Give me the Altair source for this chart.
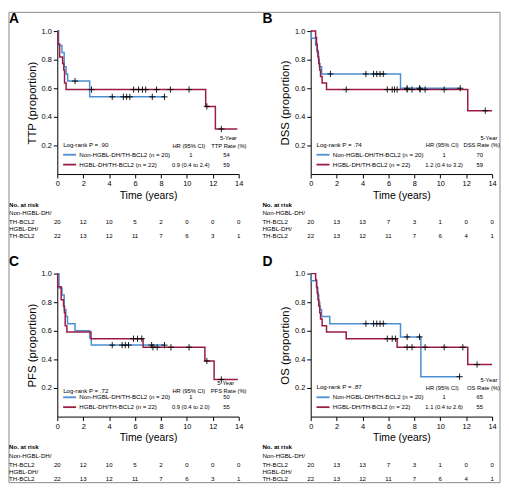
import altair as alt
import pandas as pd

BLUE = "#4a8fcf"
RED = "#9b1b45"
FONT = "Liberation Sans"

risk_times = [0, 2, 4, 6, 8, 10, 12, 14]

# ---------- Panel A: TTP ----------
ttp_non_t = [0, 0.1, 0.36, 0.53, 0.68, 0.8, 2.5, 8.3]
ttp_non_s = [1.0, 0.90, 0.85, 0.75, 0.70, 0.65, 0.54, 0.54]
ttp_hg_t = [0, 0.05, 0.18, 0.41, 0.5, 0.56, 0.68, 11.45, 12.2, 13.9]
ttp_hg_s = [1.0, 0.909, 0.818, 0.773, 0.727, 0.636, 0.591, 0.473, 0.315, 0.315]
ttp_non_cens = [1.37, 4.24, 5.1, 5.35, 5.6, 7.33, 8.27]
ttp_hg_cens = [2.64, 5.89, 6.27, 6.57, 6.82, 7.66, 8.73, 10.17, 11.54, 12.66]
ttp_risk_non = [20, 12, 10, 5, 2, 0, 0, 0]
ttp_risk_hg = [22, 13, 12, 11, 7, 6, 3, 1]

# ---------- Panel B: DSS ----------
dss_non_t = [0, 0.05, 0.38, 0.5, 0.6, 0.66, 0.84, 6.93, 11.54]
dss_non_s = [1.0, 0.95, 0.90, 0.85, 0.80, 0.75, 0.70, 0.60, 0.60]
dss_hg_t = [0, 0.38, 0.45, 0.5, 0.56, 0.62, 0.7, 0.76, 0.88, 1.22, 12.12, 14.0]
dss_hg_s = [1.0, 0.955, 0.909, 0.864, 0.818, 0.773, 0.727, 0.682, 0.636, 0.591, 0.443, 0.443]
dss_non_cens = [1.52, 4.26, 4.85, 5.1, 5.35, 5.6, 7.44, 8.4, 11.54]
dss_hg_cens = [2.74, 5.91, 6.29, 6.47, 6.67, 7.44, 7.82, 8.45, 8.83, 10.3, 13.47]
dss_risk_non = [20, 13, 13, 7, 3, 1, 0, 0]
dss_risk_hg = [22, 13, 12, 11, 7, 6, 4, 1]

# ---------- Panel C: PFS ----------
pfs_non_t = [0, 0.13, 0.36, 0.53, 0.66, 0.79, 1.37, 2.5, 2.62, 8.27]
pfs_non_s = [1.0, 0.90, 0.85, 0.75, 0.70, 0.65, 0.60, 0.55, 0.50, 0.50]
pfs_hg_t = [0, 0.03, 0.3, 0.48, 0.55, 0.61, 0.74, 2.6, 6.62, 11.39, 12.1, 13.93]
pfs_hg_s = [1.0, 0.909, 0.818, 0.773, 0.727, 0.636, 0.591, 0.545, 0.485, 0.389, 0.26, 0.26]
pfs_non_cens = [4.24, 5.0, 5.25, 5.5, 7.28, 8.27]
pfs_hg_cens = [5.88, 6.19, 6.52, 7.38, 7.71, 8.77, 10.17, 11.54, 12.66]
pfs_risk_non = [20, 12, 10, 5, 2, 0, 0, 0]
pfs_risk_hg = [22, 13, 12, 11, 7, 6, 3, 1]

# ---------- Panel D: OS ----------
os_non_t = [0, 0.03, 0.46, 0.55, 0.62, 0.7, 0.84, 1.47, 6.93, 8.5, 11.49]
os_non_s = [1.0, 0.95, 0.90, 0.85, 0.80, 0.75, 0.70, 0.65, 0.557, 0.279, 0.279]
os_hg_t = [0, 0.38, 0.45, 0.5, 0.56, 0.62, 0.7, 0.76, 0.88, 1.22, 2.74, 6.67, 12.12, 14.0]
os_hg_s = [1.0, 0.955, 0.909, 0.864, 0.818, 0.773, 0.727, 0.682, 0.636, 0.591, 0.545, 0.485, 0.364, 0.364]
os_non_cens = [4.26, 4.85, 5.1, 5.35, 5.6, 7.44, 8.4, 11.49]
os_hg_cens = [5.91, 6.29, 6.54, 7.44, 7.82, 8.83, 10.3, 11.74, 12.84]
os_risk_non = [20, 13, 13, 7, 3, 1, 0, 0]
os_risk_hg = [22, 13, 12, 11, 7, 6, 4, 1]

LEG_NON = "Non-HGBL-DH/TH-BCL2 (n = 20)"
LEG_HG = "HGBL-DH/TH-BCL2 (n = 22)"

W, H = 184, 145
ROW_GAP = 101
FS = 6.2
HFS = 5.9


def step_val(ts, ss, c):
    v = ss[0]
    for t, s in zip(ts, ss):
        if t <= c:
            v = s
    return v


def panel(letter, ytitle, non_t, non_s, hg_t, hg_s, non_c, hg_c, r_non, r_hg,
          p_txt, rate_lbl, hr_hg, rate_non, rate_hg, hdr_y, five_x, frame=False):
    xs = alt.Scale(domain=[0, 14], nice=False, zero=False)
    ys = alt.Scale(domain=[0, 1], nice=False)
    xaxis = alt.Axis(values=risk_times, title="Time (years)", labelFlush=False,
                     tickSize=4, labelPadding=2, titlePadding=3, format="d",
                     titleFontSize=10.5, titleFontWeight="normal", labelFontSize=7.5)
    yaxis = alt.Axis(values=[0.2, 0.4, 0.6, 0.8, 1.0], format=".1f", title=ytitle,
                     tickSize=4, labelPadding=2, titlePadding=4,
                     titleFontSize=11.5, titleFontWeight="normal", labelFontSize=7.5)

    def X(f):
        return alt.X(f, type="quantitative", scale=xs, axis=xaxis)

    def Y(f):
        return alt.Y(f, type="quantitative", scale=ys, axis=yaxis)

    layers = []
    df_non = pd.DataFrame({"t": non_t, "s": non_s})
    df_hg = pd.DataFrame({"t": hg_t, "s": hg_s})
    layers.append(alt.Chart(df_non).mark_line(interpolate="step-after", color=BLUE,
                                              strokeWidth=1.5).encode(x=X("t"), y=Y("s")))
    layers.append(alt.Chart(df_hg).mark_line(interpolate="step-after", color=RED,
                                             strokeWidth=1.5).encode(x=X("t"), y=Y("s")))
    cens = pd.DataFrame({
        "t": non_c + hg_c,
        "s": [step_val(non_t, non_s, c) for c in non_c] + [step_val(hg_t, hg_s, c) for c in hg_c],
    })
    layers.append(alt.Chart(cens).mark_point(shape="M-1,0L1,0M0,-1L0,1", filled=False,
                                             color="black", strokeWidth=0.9, size=40,
                                             opacity=1).encode(x=X("t"), y=Y("s")))
    # legend inside plot
    leg = pd.DataFrame({"t": [0.45, 0.45], "t2": [1.45, 1.45], "s": [0.135, 0.066],
                        "g": ["non", "hg"]})
    layers.append(alt.Chart(leg).mark_rule(strokeWidth=1.8).encode(
        x=X("t"), x2="t2", y=Y("s"),
        color=alt.Color("g:N", scale=alt.Scale(domain=["non", "hg"], range=[BLUE, RED]),
                        legend=None)))
    left_txt = pd.DataFrame({
        "t": [0.45, 1.7, 1.7],
        "s": [hdr_y + 0.004, 0.135, 0.066],
        "txt": ["Log-rank P = " + p_txt, LEG_NON, LEG_HG],
    })
    layers.append(alt.Chart(left_txt).mark_text(align="left", baseline="middle", font=FONT,
                                                fontSize=FS, color="black").encode(
        x=X("t"), y=Y("s"), text="txt:N"))
    ctr_txt = pd.DataFrame({
        "t": [10.15, five_x, 10.3, 10.3, 13.05, 13.05],
        "s": [hdr_y, hdr_y + 0.055, 0.135, 0.066, 0.135, 0.066],
        "txt": ["HR (95% CI)", "5-Year", "1", hr_hg, rate_non, rate_hg],
    })
    layers.append(alt.Chart(ctr_txt).mark_text(align="center", baseline="middle", font=FONT,
                                               fontSize=HFS, color="black").encode(
        x=X("t"), y=Y("s"), text="txt:N"))
    right_txt = pd.DataFrame({"t": [14.6], "s": [hdr_y], "txt": [rate_lbl]})
    layers.append(alt.Chart(right_txt).mark_text(align="right", baseline="middle", font=FONT,
                                                 fontSize=HFS, color="black").encode(
        x=X("t"), y=Y("s"), text="txt:N"))
    # risk table
    risk_non = pd.DataFrame({"t": risk_times, "n": r_non})
    risk_hg = pd.DataFrame({"t": risk_times, "n": r_hg})
    layers.append(alt.Chart(risk_non).mark_text(align="center", baseline="middle", font=FONT,
                                                fontSize=FS, color="black").encode(
        x=X("t"), y=alt.value(H + 49), text="n:Q"))
    layers.append(alt.Chart(risk_hg).mark_text(align="center", baseline="middle", font=FONT,
                                               fontSize=FS, color="black").encode(
        x=X("t"), y=alt.value(H + 63), text="n:Q"))
    dummy = alt.Data(values=[{}])
    labels = [("No. at risk", 31, "bold"), ("Non-HGBL-DH/", 40, "normal"),
              ("TH-BCL2", 49, "normal"), ("HGBL-DH/", 56, "normal"), ("TH-BCL2", 63, "normal")]
    for txt, dy, fw in labels:
        layers.append(alt.Chart(dummy).mark_text(align="left", baseline="middle", font=FONT,
                                                 fontSize=FS, fontWeight=fw, color="black",
                                                 text=txt).encode(
            x=alt.value(-49), y=alt.value(H + dy)))
    layers.append(alt.Chart(dummy).mark_text(align="left", baseline="middle", font=FONT,
                                             fontSize=14, fontWeight="bold", color="black",
                                             text=letter).encode(
        x=alt.value(-49), y=alt.value(-12)))
    if frame:
        layers.append(alt.Chart(dummy).mark_rect(fillOpacity=0, stroke="#888888",
                                                 strokeWidth=1).encode(
            x=alt.value(-49), x2=alt.value(449), y=alt.value(-19),
            y2=alt.value(2 * H + ROW_GAP + 67)))
    return alt.layer(*layers).properties(width=W, height=H)


pA = panel("A", "TTP (proportion)", ttp_non_t, ttp_non_s, ttp_hg_t, ttp_hg_s,
           ttp_non_cens, ttp_hg_cens, ttp_risk_non, ttp_risk_hg,
           ".90", "TTP Rate (%)", "0.9 (0.4 to 2.4)", "54", "59", 0.197, 13.2, frame=True)
pB = panel("B", "DSS (proportion)", dss_non_t, dss_non_s, dss_hg_t, dss_hg_s,
           dss_non_cens, dss_hg_cens, dss_risk_non, dss_risk_hg,
           ".74", "DSS Rate (%)", "1.2 (0.4 to 3.2)", "70", "59", 0.2, 13.75)
pC = panel("C", "PFS (proportion)", pfs_non_t, pfs_non_s, pfs_hg_t, pfs_hg_s,
           pfs_non_cens, pfs_hg_cens, pfs_risk_non, pfs_risk_hg,
           ".72", "PFS Rate (%)", "0.9 (0.4 to 2.0)", "50", "55", 0.178, 13.0)
pD = panel("D", "OS (proportion)", os_non_t, os_non_s, os_hg_t, os_hg_s,
           os_non_cens, os_hg_cens, os_risk_non, os_risk_hg,
           ".87", "OS Rate (%)", "1.1 (0.4 to 2.6)", "65", "55", 0.2, 13.75)

chart = alt.concat(pA, pB, pC, pD, columns=2, spacing={"row": ROW_GAP, "column": 73},
                   bounds="flush").properties(
    padding={"left": 0, "top": 0, "right": 0, "bottom": 0},
    autosize=alt.AutoSizeParams(type="pad")).configure_view(
    stroke=None).configure_axis(
    grid=False, labelFont=FONT, titleFont=FONT, labelColor="black", titleColor="black",
    domainColor="black", tickColor="black", domainWidth=1, tickWidth=1)

chart.save("out.html", embed_options={"renderer": "svg", "actions": False})
